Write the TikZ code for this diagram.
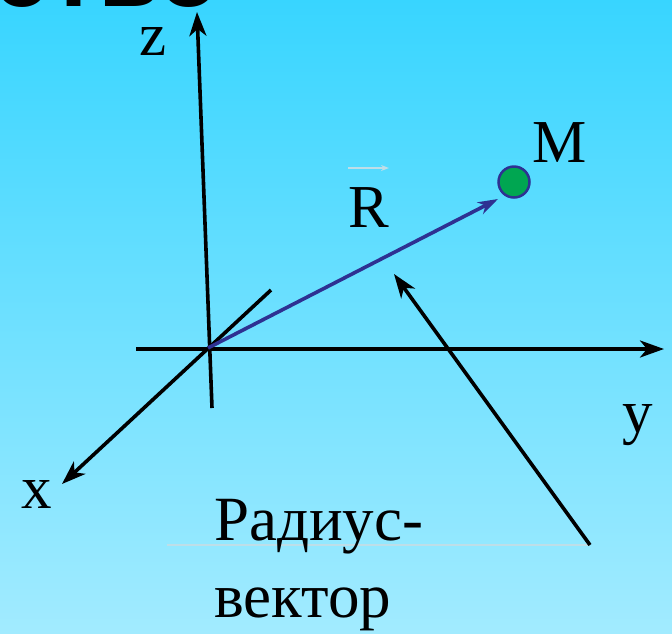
\documentclass[tikz,border=0pt]{standalone}
\usepackage{fontspec}
\setmainfont{Liberation Serif}
\newfontfamily\titlefont{Liberation Sans}
\usetikzlibrary{arrows.meta}
\definecolor{bgtop}{RGB}{56,213,255}
\definecolor{bgbot}{RGB}{162,235,255}
\definecolor{vecblue}{RGB}{46,49,146}
\definecolor{ptgreen}{RGB}{0,166,81}
\definecolor{paleline}{RGB}{190,222,232}
\tikzset{
  axis/.style={line width=3.6pt,-{Stealth[length=24pt,width=17pt,inset=7pt]}},
  vecline/.style={line width=3.6pt,draw=vecblue,-{Stealth[length=20pt,width=13pt,inset=6pt]}},
  lbl/.style={font=\fontsize{61}{70}\selectfont,inner sep=0pt},
  bigtxt/.style={font=\fontsize{63}{75}\selectfont,inner sep=0pt,anchor=base west},
}
\begin{document}
\begin{tikzpicture}[x=1pt,y=-1pt]
\useasboundingbox (0,0) rectangle (672,633);
\clip (0,0) rectangle (672,633);
\shade[top color=bgtop,bottom color=bgbot] (0,0) rectangle (672,633);
% partially visible title
\node[anchor=base east,inner sep=0pt,font=\titlefont\bfseries\fontsize{100}{100}\selectfont] (title) at (220,6) {ство};
% coordinates
\coordinate (O) at (208,348);
\coordinate (zb) at (212,408);
\coordinate (zt) at (197,12);
\coordinate (yb) at (136,349);
\coordinate (yt) at (664,349);
\coordinate (xb) at (271,290);
\coordinate (xt) at (62,484);
\coordinate (pb) at (590,545);
\coordinate (pt) at (394,274);
\coordinate (ll) at (167,545);
% axes
\draw[axis] (zb) -- (zt);
\draw[axis] (yb) -- (yt);
\draw[axis] (xb) -- (xt);
% point M
\node[circle,fill=ptgreen,draw=vecblue,line width=2.5pt,minimum size=31pt,inner sep=0pt] (M) at (514,182) {};
% radius vector
\draw[vecline] (O) -- (498,199);
% labels
\node[lbl,anchor=base] (zl) at (153,55) {z};
\node[lbl,anchor=base] (Ml) at (560,162) {M};
\node[lbl,anchor=base] (Rl) at (369,227) {R};
\node[lbl,anchor=base] (yl) at (638,432) {y};
\node[lbl,anchor=base] (xl) at (37,508) {x};
\coordinate (ra) at (348,168);
\coordinate (rb) at (389,168);
\draw[paleline,line width=1.5pt,-{Stealth[length=8pt,width=6pt]}] (ra) -- (rb);
% pale line and pointer
\draw[paleline,line width=1.5pt] (ll) -- (pb);
\draw[axis] (pb) -- (pt);
\node[bigtxt] (t1) at (214,540) {Радиус-};
\node[bigtxt] (t2) at (214,617) {вектор};
\end{tikzpicture}
\end{document}
